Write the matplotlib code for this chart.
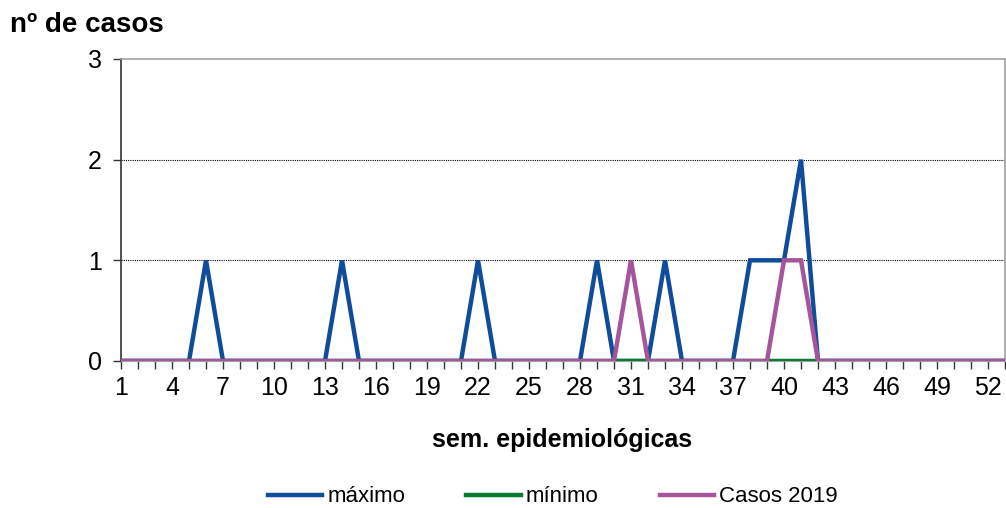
import matplotlib
matplotlib.use("Agg")
import matplotlib.pyplot as plt
import numpy as np

plt.rcParams['font.family'] = ['Liberation Sans', 'DejaVu Sans']

weeks = list(range(1, 54))
maximo = [0]*53
for w, v in {6: 1, 14: 1, 22: 1, 29: 1, 33: 1, 38: 1, 39: 1, 40: 1, 41: 2}.items():
    maximo[w-1] = v
minimo = [0]*53
casos2019 = [0]*53
for w, v in {31: 1, 40: 1, 41: 1}.items():
    casos2019[w-1] = v

xtick_labels = list(range(1, 53, 3))
yticks = [0, 1, 2, 3]

fig = plt.figure(figsize=(10.06, 5.08), dpi=100)
ax = fig.add_axes([121/1006, 1-361/508, (1005-121)/1006, (361-59)/508])

ax.plot(weeks, maximo, color='#0f4c9c', lw=3.2, label='máximo', solid_joinstyle='miter', zorder=3)
ax.plot(weeks, minimo, color='#0a7a32', lw=3.2, label='mínimo', zorder=4)
ax.plot(weeks, casos2019, color='#a5559a', lw=3.2, label='Casos 2019', solid_joinstyle='miter', zorder=5)

ax.set_xlim(1, 53)
ax.set_ylim(0, 3)
ax.set_xticks(xtick_labels)
ax.set_xticklabels([str(x) for x in xtick_labels], fontsize=18)
ax.set_xticks(weeks, minor=True)
ax.set_yticks(yticks)
ax.set_yticklabels([str(y) for y in yticks], fontsize=18)
ax.tick_params(axis='x', which='both', direction='out', length=6, width=1, color='#333333', pad=5)
ax.tick_params(axis='y', direction='out', length=6, width=1, color='#333333', pad=8)

for y in [1, 2]:
    ax.axhline(y, color='black', lw=0.8, ls=(0, (1, 1)), zorder=1)

for s in ['top', 'right']:
    ax.spines[s].set_color('#a0a0a0')
    ax.spines[s].set_linewidth(1.2)
ax.spines['bottom'].set_color('#a0a0a0')
ax.spines['left'].set_color('#333333')
ax.spines['left'].set_linewidth(1.2)

fig.text(10/1006, 1-25/508, 'nº de casos', fontsize=20, fontweight='bold', ha='left', va='center')
fig.text(562/1006, 1-440/508, 'sem. epidemiológicas', fontsize=18, fontweight='bold', ha='center', va='center')

leg = fig.legend(loc='center', bbox_to_anchor=(553/1006, 1-497/508), ncol=3, frameon=False,
                 fontsize=16, handlelength=2.45, handletextpad=0.23, columnspacing=2.75)

fig.savefig('out.png', dpi=100)
